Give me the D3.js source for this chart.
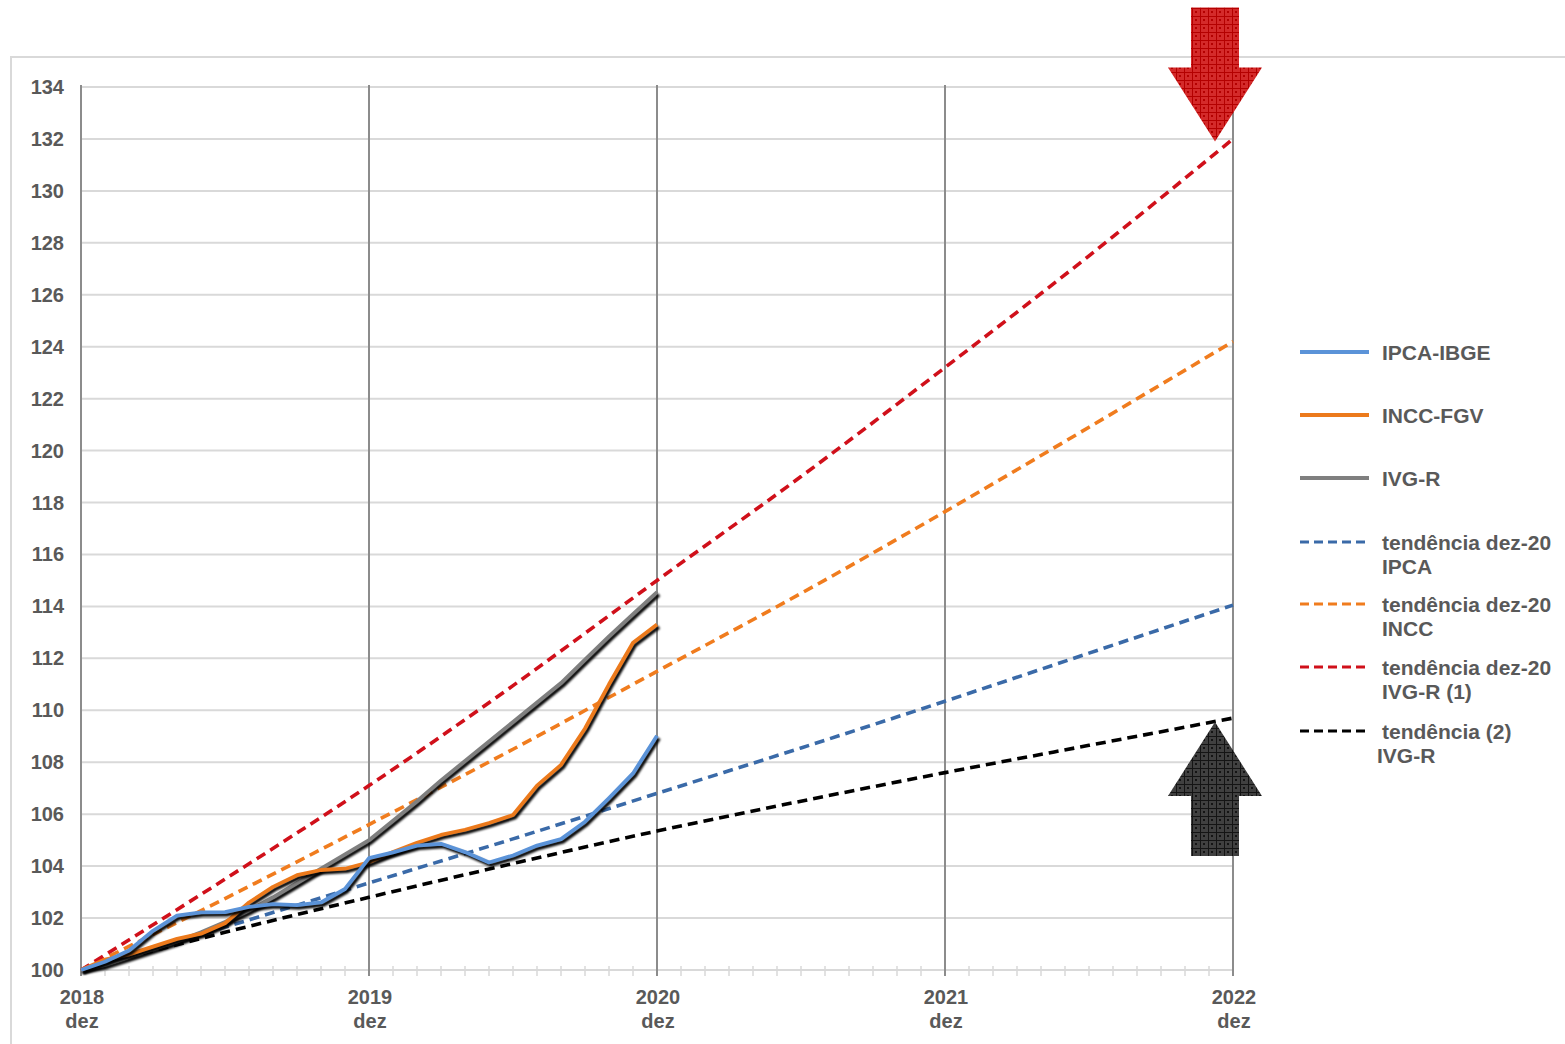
<!DOCTYPE html>
<html>
<head>
<meta charset="utf-8">
<script src="https://cdn.jsdelivr.net/npm/d3@7"></script>
<style>
  body { margin: 0; background: #fff; }
  text { font-family: "Liberation Sans", Arial, sans-serif; font-weight: bold; fill: #595959; }
</style>
</head>
<body>
<div id="chart"></div>
<script>
// months counted from dez 2018 (0) to dez 2022 (48)
var yearTicks = [0, 12, 24, 36, 48];
var yearLabels = ["2018", "2019", "2020", "2021", "2022"];
var yTicks = [100, 102, 104, 106, 108, 110, 112, 114, 116, 118, 120, 122, 124, 126, 128, 130, 132, 134];

// observed series, monthly, dez-18 .. dez-20
var months = [0,1,2,3,4,5,6,7,8,9,10,11,12,13,14,15,16,17,18,19,20,21,22,23,24];
var ipca = [100, 100.32, 100.75, 101.51, 102.09, 102.22, 102.23, 102.43, 102.54, 102.50, 102.60, 103.12, 104.31,
            104.53, 104.79, 104.86, 104.54, 104.14, 104.41, 104.79, 105.04, 105.71, 106.62, 107.57, 109.02];
var incc = [100, 100.4, 100.6, 100.9, 101.2, 101.4, 101.8, 102.6, 103.2, 103.65, 103.85, 103.9, 104.15,
            104.54, 104.9, 105.2, 105.4, 105.66, 105.97, 107.1, 107.9, 109.3, 111.0, 112.6, 113.3];
var ivgr = [100, 100.2, 100.5, 100.8, 101.1, 101.45, 101.85, 102.3, 102.8, 103.35, 103.9, 104.45, 105.0,
            105.75, 106.5, 107.3, 108.05, 108.8, 109.55, 110.3, 111.05, 111.95, 112.85, 113.7, 114.55];

// trend series, every 6 months, dez-18 .. dez-22
var trendMonths = [0, 6, 12, 18, 24, 30, 36, 42, 48];
var trendIpca = [100, 101.65, 103.35, 105.05, 106.8, 108.55, 110.35, 112.2, 114.05];
var trendIncc = [100, 102.75, 105.6, 108.5, 111.5, 114.5, 117.65, 120.9, 124.2];
var trendIvgr1 = [100, 103.5, 107.1, 110.95, 115.0, 119.0, 123.2, 127.5, 132.0];
var trendIvgr2 = [100, 101.45, 102.8, 104.1, 105.35, 106.5, 107.6, 108.65, 109.7];

var W = 1565, H = 1044;
var svg = d3.select("#chart").append("svg").attr("width", W).attr("height", H);

var x = d3.scaleLinear().domain([0, 48]).range([81, 1233]);
var y = d3.scaleLinear().domain([100, 134]).range([970, 87]);

var defs = svg.append("defs");
defs.append("filter").attr("id", "blur").append("feGaussianBlur").attr("stdDeviation", 0.9);

function hatch(id, base, lineCol) {
  var p = defs.append("pattern").attr("id", id).attr("patternUnits", "userSpaceOnUse")
    .attr("width", 8).attr("height", 8);
  p.append("rect").attr("width", 8).attr("height", 8).attr("fill", base);
  p.append("path").attr("d", "M0,0.5H8M0.5,0V8").attr("stroke", lineCol).attr("stroke-width", 1);
  p.append("rect").attr("x", 3).attr("y", 3).attr("width", 2).attr("height", 2).attr("fill", lineCol);
}
hatch("redHatch", "#d42a2a", "#b40000");
hatch("blackHatch", "#404040", "#141414");

// outer frame
svg.append("path").attr("d", "M11,1044V57H1565").attr("fill", "none").attr("stroke", "#d9d9d9").attr("stroke-width", 2);

// horizontal grid
svg.append("g").selectAll("line").data(yTicks.slice(1)).join("line")
  .attr("x1", x(0)).attr("x2", x(48))
  .attr("y1", function (d) { return y(d); }).attr("y2", function (d) { return y(d); })
  .attr("stroke", "#d9d9d9").attr("stroke-width", 2);

// x axis line and monthly ticks
svg.append("line").attr("x1", x(0)).attr("x2", x(48)).attr("y1", y(100)).attr("y2", y(100))
  .attr("stroke", "#d9d9d9").attr("stroke-width", 2);
svg.append("g").selectAll("line").data(d3.range(0, 49)).join("line")
  .attr("x1", function (d) { return x(d); }).attr("x2", function (d) { return x(d); })
  .attr("y1", y(100) - 4).attr("y2", y(100) + 6)
  .attr("stroke", "#d9d9d9").attr("stroke-width", 1.5);

// year vertical lines
svg.append("g").selectAll("line").data(yearTicks).join("line")
  .attr("x1", function (d) { return x(d); }).attr("x2", function (d) { return x(d); })
  .attr("y1", y(134) - 2).attr("y2", y(100) + 6)
  .attr("stroke", "#8c8c8c").attr("stroke-width", 2);

// y labels
svg.append("g").selectAll("text").data(yTicks).join("text")
  .attr("x", 64).attr("y", function (d) { return y(d) + 7; })
  .attr("text-anchor", "end").style("font-size", "20px")
  .text(function (d) { return d; });

// x labels
var xl = svg.append("g").selectAll("g").data(yearTicks).join("g");
xl.append("text").attr("x", function (d) { return x(d) + 1; }).attr("y", 1004)
  .attr("text-anchor", "middle").style("font-size", "20px")
  .text(function (d, i) { return yearLabels[i]; });
xl.append("text").attr("x", function (d) { return x(d) + 1; }).attr("y", 1028)
  .attr("text-anchor", "middle").style("font-size", "20px").text("dez");

// trend lines
var trends = [
  { vals: trendIvgr2, color: "#000000" },
  { vals: trendIpca, color: "#3a6aa8" },
  { vals: trendIncc, color: "#f07c1e" },
  { vals: trendIvgr1, color: "#d0101a" }
];
var trendLine = d3.line().x(function (d) { return x(d[0]); }).y(function (d) { return y(d[1]); })
  .curve(d3.curveMonotoneX);
trends.forEach(function (t) {
  svg.append("path").datum(d3.zip(trendMonths, t.vals))
    .attr("d", trendLine).attr("fill", "none")
    .attr("stroke", t.color).attr("stroke-width", 3.6).attr("stroke-dasharray", "10,6");
});

// observed lines with shadow
var series = [
  { vals: ivgr, color: "#7f7f7f" },
  { vals: incc, color: "#ec7a1c" },
  { vals: ipca, color: "#5b93d8" }
];
var obsLine = d3.line().x(function (d) { return x(d[0]); }).y(function (d) { return y(d[1]); });
series.forEach(function (s) {
  var data = d3.zip(months, s.vals);
  svg.append("path").datum(data).attr("d", obsLine).attr("fill", "none")
    .attr("stroke", "#000").attr("stroke-width", 3.8).attr("stroke-linejoin", "round")
    .attr("transform", "translate(2,2.5)").attr("filter", "url(#blur)");
  svg.append("path").datum(data).attr("d", obsLine).attr("fill", "none")
    .attr("stroke", s.color).attr("stroke-width", 3.8).attr("stroke-linejoin", "round");
});

// arrows
function arrow(tipX, tipY, dir, fill) {
  // dir = 1 points down, -1 points up
  var headH = 74, headW = 47, shaftW = 24, shaftL = 60;
  var b = tipY - dir * headH;
  var pts = [
    [tipX, tipY], [tipX + headW, b], [tipX + shaftW, b], [tipX + shaftW, b - dir * shaftL],
    [tipX - shaftW, b - dir * shaftL], [tipX - shaftW, b], [tipX - headW, b]
  ];
  svg.append("path").attr("d", "M" + pts.join("L") + "Z").attr("fill", fill);
}
arrow(x(47.25), y(131.9), 1, "url(#redHatch)");
arrow(x(47.25), y(109.55), -1, "url(#blackHatch)");

// legend
var legend = [
  { lines: ["IPCA-IBGE"], color: "#5b93d8", dash: false, y: 352 },
  { lines: ["INCC-FGV"], color: "#ec7a1c", dash: false, y: 415 },
  { lines: ["IVG-R"], color: "#7f7f7f", dash: false, y: 478 },
  { lines: ["tendência dez-20", "IPCA"], color: "#3a6aa8", dash: true, y: 542 },
  { lines: ["tendência dez-20", "INCC"], color: "#f07c1e", dash: true, y: 604 },
  { lines: ["tendência dez-20", "IVG-R (1)"], color: "#d0101a", dash: true, y: 667 },
  { lines: ["tendência (2)", "IVG-R"], color: "#000000", dash: true, y: 731, indent: -5 }
];
var lg = svg.append("g").selectAll("g").data(legend).join("g");
lg.append("line").attr("x1", 1300).attr("x2", 1369)
  .attr("y1", function (d) { return d.y; }).attr("y2", function (d) { return d.y; })
  .attr("stroke", function (d) { return d.color; }).attr("stroke-width", function (d) { return d.dash ? 3.2 : 3.8; })
  .attr("stroke-dasharray", function (d) { return d.dash ? "9,5" : null; });
lg.each(function (d) {
  var g = d3.select(this);
  d.lines.forEach(function (l, i) {
    g.append("text").attr("x", i > 0 && d.indent ? 1382 + d.indent : 1382)
      .attr("y", d.y + 8 + i * 24).style("font-size", "21px").text(l);
  });
});
</script>
</body>
</html>
